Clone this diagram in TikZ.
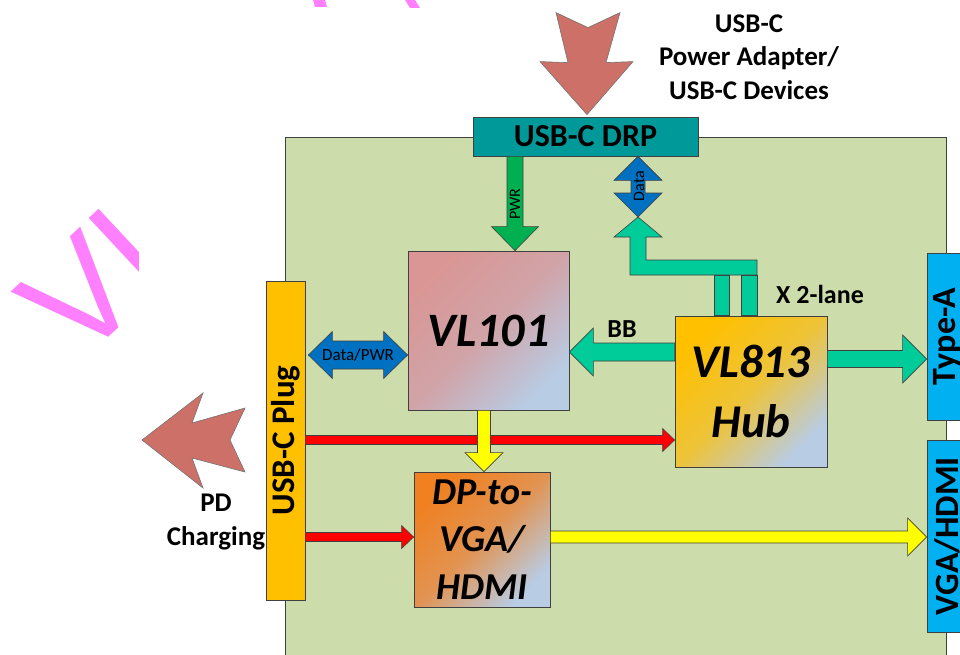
\documentclass[tikz,border=0pt]{standalone}
\usepackage{fontspec}
\setmainfont{Carlito}
\newfontfamily\wmfont{Liberation Sans}
\usetikzlibrary{calc}

\definecolor{boardcol}{RGB}{204,220,170}
\definecolor{drpcol}{RGB}{0,153,153}
\definecolor{pwrcol}{RGB}{0,176,80}
\definecolor{datacol}{RGB}{0,112,192}
\definecolor{lanecol}{RGB}{0,204,153}
\definecolor{redcol}{RGB}{255,0,0}
\definecolor{yelcol}{RGB}{255,255,0}
\definecolor{plugcol}{RGB}{255,192,0}
\definecolor{portcol}{RGB}{0,176,240}
\definecolor{bigcol}{RGB}{205,112,104}
\definecolor{wmcol}{RGB}{255,128,255}
\definecolor{pinkA}{RGB}{217,150,148}
\definecolor{blueB}{RGB}{184,204,228}
\definecolor{orgA}{RGB}{255,192,0}
\definecolor{dpA}{RGB}{240,128,32}
\definecolor{linecol}{RGB}{64,64,64}

% fat single arrow: style, from, to, shaft half width, head half width, head length
\newcommand\fatarrow[6]{%
  \coordinate (fahd) at ($(#3)!#6pt!(#2)$);
  \path[#1] ($(#2)!#4pt!90:(#3)$) -- ($(fahd)!#4pt!90:(#3)$) -- ($(fahd)!#5pt!90:(#3)$)
    -- (#3) -- ($(fahd)!#5pt!-90:(#3)$) -- ($(fahd)!#4pt!-90:(#3)$)
    -- ($(#2)!#4pt!-90:(#3)$) -- cycle;
}
% fat double arrow
\newcommand\dblarrow[6]{%
  \coordinate (dahA) at ($(#2)!#6pt!(#3)$);
  \coordinate (dahB) at ($(#3)!#6pt!(#2)$);
  \path[#1] (#2) -- ($(dahA)!#5pt!90:(#3)$) -- ($(dahA)!#4pt!90:(#3)$)
    -- ($(dahB)!#4pt!90:(#3)$) -- ($(dahB)!#5pt!90:(#3)$) -- (#3)
    -- ($(dahB)!#5pt!-90:(#3)$) -- ($(dahB)!#4pt!-90:(#3)$)
    -- ($(dahA)!#4pt!-90:(#3)$) -- ($(dahA)!#5pt!-90:(#3)$) -- cycle;
}

\tikzset{
  box/.style={draw=linecol, line width=0.8pt, inner sep=0pt, align=center},
  fat/.style={draw=linecol, line width=0.6pt},
  big/.style={draw=black!55, line width=0.6pt, fill=bigcol},
  lbl/.style={inner sep=0pt, align=center},
  grad/.style={top color=#1, bottom color=blueB, middle color=#1!75!blueB, shading angle=45},
}

\begin{document}
\begin{tikzpicture}[x=1pt,y=-1pt]
\useasboundingbox (0,0) rectangle (960,655);

% watermark
\begin{scope}
  \clip (0,0) rectangle (138,655);
  \node[inner sep=0pt, rotate=43, anchor=base west, text=wmcol,
        font=\wmfont\fontsize{145}{145}\selectfont] (wm) at (78,366) {VL};
\end{scope}
\fill[wmcol] (313,0) -- (325,0) -- (327,7) -- (315,7) -- cycle;
\fill[wmcol] (405,0) -- (415,0) -- (420,8) -- (410,8) -- cycle;

% board
\node[box, fill=boardcol, minimum width=661pt, minimum height=540pt, anchor=north west] (board) at (285,137) {};

% blocks
\node[box, fill=drpcol, minimum width=225pt, minimum height=39pt,
      font=\bfseries\fontsize{32}{36}\selectfont] (drp) at (585.5,136.5) {USB-C DRP};
\node[box, fill=plugcol, minimum width=39pt, minimum height=319pt] (plug) at (285.5,440.5) {};
\node[lbl, rotate=90, font=\bfseries\fontsize{33}{36}\selectfont] (plugtxt) at (plug.center) {USB-C Plug};
\node[box, grad=pinkA, minimum width=161pt, minimum height=159pt,
      font=\bfseries\itshape\fontsize{48}{56}\selectfont] (vl101) at (488.5,330.5) {VL101};
\node[box, grad=orgA, minimum width=152pt, minimum height=151pt,
      font=\bfseries\itshape\fontsize{47}{60}\selectfont] (vl813) at (751,391.5) {VL813\\Hub};
\node[box, grad=dpA, minimum width=136pt, minimum height=135pt,
      font=\bfseries\itshape\fontsize{38}{47.5}\selectfont] (dp) at (482,539.5) {DP-to-\\VGA/\\HDMI};
\node[box, fill=portcol, minimum width=40pt, minimum height=167pt] (typea) at (947,336.5) {};
\node[lbl, rotate=90, font=\bfseries\fontsize{34}{36}\selectfont] (typeatxt) at (typea.center) {Type-A};
\node[box, fill=portcol, minimum width=40pt, minimum height=192pt] (vga) at (947,536) {};
\node[lbl, rotate=90, font=\bfseries\fontsize{34}{36}\selectfont] (vgatxt) at (vga.center) {VGA/HDMI};

% big external arrows
\draw[big, shift={(drp.north)}] (1.5,-2) -- (-45.5,-55) -- (-17.5,-54) -- (-29.5,-104)
   -- (2.5,-89) -- (34.5,-104) -- (20.5,-54) -- (47.5,-55) -- cycle;
\coordinate (pdtip) at (142,440);
\draw[big, shift={(pdtip)}] (0,0) -- (61,-47) -- (50,-17) -- (103,-32) -- (88,0)
   -- (103,32) -- (50,18) -- (61,48) -- cycle;

% texts outside
\node[lbl, font=\bfseries\fontsize{27}{33.5}\selectfont] (srctxt) at (749,57) {USB-C\\Power Adapter/\\USB-C Devices};
\node[lbl, font=\bfseries\fontsize{27}{34.5}\selectfont] (pdtxt) at (216,522) {PD\\Charging};

% helper coordinates
\coordinate (pwrx) at (515,0);
\coordinate (datax) at (638,0);
\coordinate (datatip) at (638,217);
\coordinate (bby) at (0,352);
\coordinate (tay) at (0,359);
\coordinate (dpwy) at (0,355);
\coordinate (r1y) at (0,440);
\coordinate (r2y) at (0,537);
\coordinate (y1x) at (484,0);

% PWR arrow
\coordinate (pwrA) at (pwrx |- drp.south);
\coordinate (pwrB) at (pwrx |- vl101.north);
\fatarrow{fat, fill=pwrcol}{pwrA}{pwrB}{8}{23.5}{24}
\node[lbl, rotate=90, font=\fontsize{16}{17}\selectfont] (pwrtxt) at (515,204) {PWR};

% Data arrow (vertical)
\coordinate (dataA) at (datax |- drp.south);
\dblarrow{fat, fill=datacol}{dataA}{datatip}{7}{24}{24}
\node[lbl, rotate=90, font=\fontsize{16}{17}\selectfont] (datatxt) at (639,186) {Data};

% lanes to DRP data
\draw[fat, fill=lanecol] (datatip) -- ++(24,20) -- ++(-16,0) -- ++(0,23) -- ++(111,0) -- ++(0,15)
   -- ++(-127,0) -- ++(0,-38) -- ++(-16,0) -- cycle;
\coordinate (lane1) at (721.5,275);
\coordinate (lane2) at (749,275);
\draw[fat, fill=lanecol] ($(lane1)+(-7.5,0)$) rectangle ($(lane1 |- vl813.north)+(7.5,0)$);
\draw[fat, fill=lanecol] ($(lane2)+(-8,0)$) rectangle ($(lane2 |- vl813.north)+(8,0)$);
\node[lbl, font=\bfseries\fontsize{26}{30}\selectfont] (lanetxt) at (820,294.5) {X 2-lane};

% BB arrow
\coordinate (bbA) at (bby -| vl813.west);
\coordinate (bbB) at (bby -| vl101.east);
\fatarrow{fat, fill=lanecol}{bbA}{bbB}{9}{24}{24}
\node[lbl, font=\bfseries\fontsize{26}{30}\selectfont] (bbtxt) at (622,329.5) {BB};

% to Type-A
\coordinate (taA) at (tay -| vl813.east);
\coordinate (taB) at (tay -| typea.west);
\fatarrow{fat, fill=lanecol}{taA}{taB}{8.5}{24}{24}

% Data/PWR
\coordinate (dpA) at ($(dpwy -| plug.east)+(3,0)$);
\coordinate (dpB) at (dpwy -| vl101.west);
\dblarrow{fat, fill=datacol}{dpA}{dpB}{14}{23.5}{24}
\node[lbl, font=\fontsize{17}{18}\selectfont] (dpwtxt) at (358,355) {Data/PWR};

% red arrows
\coordinate (r1A) at (r1y -| plug.east);
\coordinate (r1B) at (r1y -| vl813.west);
\fatarrow{fat, fill=redcol}{r1A}{r1B}{4.5}{11.5}{12}
\coordinate (r2A) at (r2y -| plug.east);
\coordinate (r2B) at (r2y -| dp.west);
\fatarrow{fat, fill=redcol}{r2A}{r2B}{4.5}{11.5}{12}

% yellow arrows
\coordinate (y1A) at (y1x |- vl101.south);
\coordinate (y1B) at (y1x |- dp.north);
\fatarrow{fat, fill=yelcol}{y1A}{y1B}{6.5}{19}{19}
\coordinate (y2A) at (r2y -| dp.east);
\coordinate (y2B) at (r2y -| vga.west);
\fatarrow{fat, fill=yelcol}{y2A}{y2B}{6}{19}{19}
\end{tikzpicture}
\end{document}
